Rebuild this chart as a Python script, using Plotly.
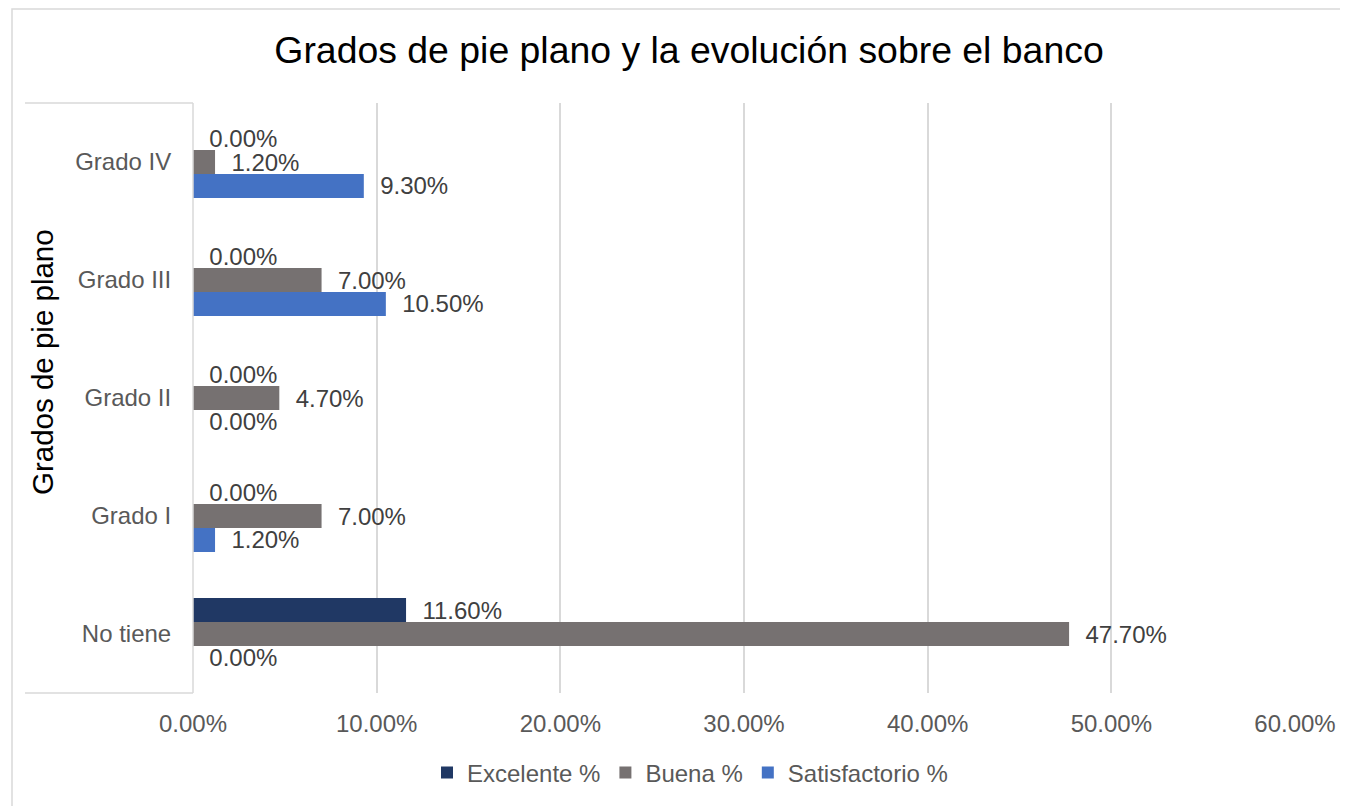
import plotly.graph_objects as go

categories = ["No tiene", "Grado I", "Grado II", "Grado III", "Grado IV"]
excelente = [0.116, 0.0, 0.0, 0.0, 0.0]
buena = [0.477, 0.070, 0.047, 0.070, 0.012]
satisfactorio = [0.0, 0.012, 0.0, 0.105, 0.093]
x_ticks = [0, 0.1, 0.2, 0.3, 0.4, 0.5, 0.6]
x_tick_labels = ["0.00%", "10.00%", "20.00%", "30.00%", "40.00%", "50.00%", "60.00%"]

FONT = "Liberation Sans, Arial, sans-serif"
LBL = dict(family=FONT, size=24, color="#404040")

# plot area (figure pixels)
L, R, T, B = 185, 1287, 95, 685
PW, PH = R - L, B - T

fig = go.Figure()
series = [
    ("Satisfactorio %", satisfactorio, "#4472C4"),
    ("Buena %", buena, "#767171"),
    ("Excelente %", excelente, "#203864"),
]
for name, vals, col in series:
    fig.add_trace(go.Bar(
        y=categories, x=vals, name=name, orientation="h",
        marker=dict(color=col, line=dict(width=0)),
        texttemplate="\u00a0\u00a0%{x:.2%}", textposition="outside",
        textfont=LBL, constraintext="none", cliponaxis=False,
        hoverinfo="skip",
    ))

fig.update_layout(
    width=1348, height=806,
    paper_bgcolor="white", plot_bgcolor="white",
    margin=dict(l=L, r=1348 - R, t=T, b=806 - B),
    barmode="group", bargap=0.39, bargroupgap=0,
    font=dict(family=FONT, color="#595959"),
    title=dict(text="Grados de pie plano y la evolución sobre el banco",
               x=681 / 1348, xanchor="center", y=1 - 42 / 806, yanchor="middle",
               font=dict(family=FONT, size=37.4, color="#000000")),
    legend=dict(orientation="h", x=(682 - L) / PW, xanchor="center",
                y=(B - 765) / PH, yanchor="middle",
                traceorder="reversed", font=dict(family=FONT, size=24, color="#595959"),
                itemwidth=30, bgcolor="rgba(0,0,0,0)"),
    showlegend=True,
)
fig.update_xaxes(
    range=[0, 0.6], tickvals=x_ticks, ticktext=x_tick_labels,
    showgrid=True, gridcolor="#d9d9d9", gridwidth=1.5, zeroline=False,
    ticks="outside", ticklen=9, tickcolor="rgba(0,0,0,0)",
    tickfont=dict(family=FONT, size=24, color="#595959"), showline=False,
)
fig.update_yaxes(
    categoryorder="array", categoryarray=categories,
    showgrid=False, zeroline=False, showline=False,
    ticks="outside", ticklen=16, tickcolor="rgba(0,0,0,0)",
    tickfont=dict(family=FONT, size=24, color="#595959"),
)
LINE = dict(color="#d9d9d9", width=1.5)
# outer chart border (right and bottom edges fall outside the visible area)
fig.add_shape(type="rect", xref="paper", yref="paper",
              x0=(4 - L) / PW, x1=(1400 - L) / PW, y0=(B - 900) / PH, y1=(B - 1) / PH,
              line=LINE, layer="below")
# label-area box
fig.add_shape(type="line", xref="paper", yref="paper", x0=(17 - L) / PW, x1=0, y0=1, y1=1, line=LINE)
fig.add_shape(type="line", xref="paper", yref="paper", x0=(17 - L) / PW, x1=0, y0=0, y1=0, line=LINE)
fig.add_shape(type="line", xref="paper", yref="paper", x0=0, x1=0, y0=0, y1=1, line=LINE)
fig.add_annotation(text="Grados de pie plano", xref="paper", yref="paper",
                   x=(34 - L) / PW, y=(B - 354) / PH, textangle=-90, showarrow=False,
                   xanchor="center", yanchor="middle",
                   font=dict(family=FONT, size=29.5, color="#000000"))

fig.write_html("out.html")
